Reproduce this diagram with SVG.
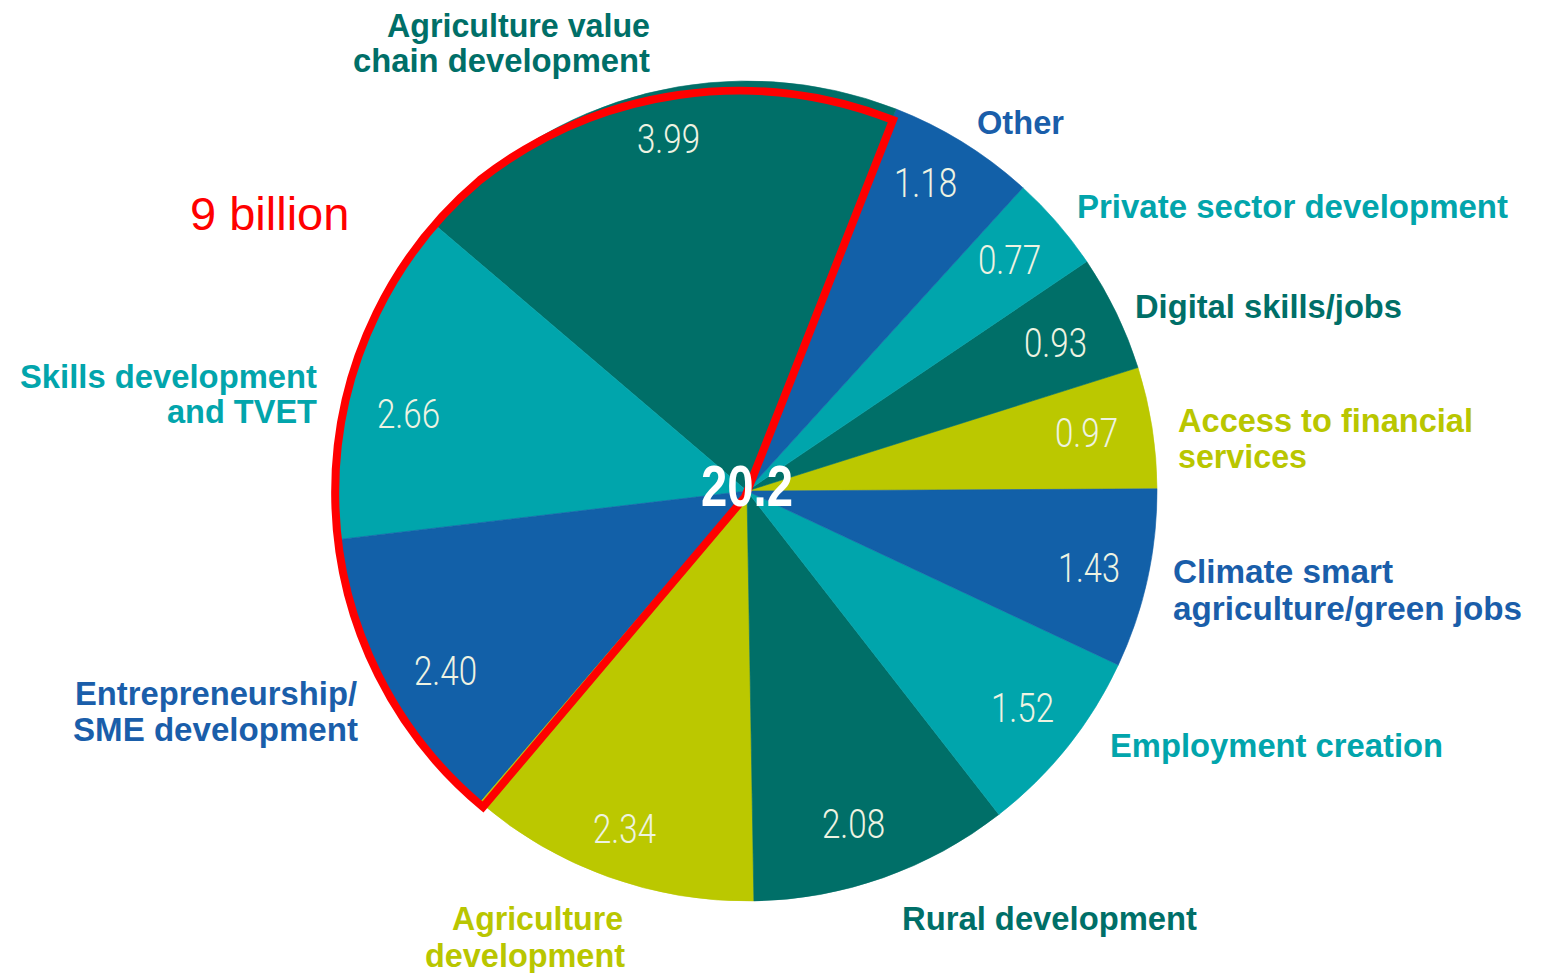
<svg xmlns="http://www.w3.org/2000/svg" width="1550" height="973" viewBox="0 0 1550 973">
<style>
.teal{fill:#006F68;stroke:#006F68;stroke-width:0.6}
.blue{fill:#1260A8;stroke:#1260A8;stroke-width:0.6}
.cyan{fill:#00A5AC;stroke:#00A5AC;stroke-width:0.6}
.lime{fill:#BBC800;stroke:#BBC800;stroke-width:0.6}
.val{font-family:Roboto,"Liberation Sans",sans-serif;font-weight:300;font-size:41px;fill:#EEF3E2}
.lbl{font-family:"Liberation Sans",Arial,sans-serif;font-weight:bold;font-size:34px}
.tT{fill:#006F68}.tB{fill:#1A5EAA}.tC{fill:#02A5AC}.tL{fill:#B9C600}
.red{fill:none;stroke:#FF0000;stroke-width:8;stroke-linejoin:miter}
</style>
<rect width="1550" height="973" fill="#FFFFFF"/>
<g id="slice-access">
<path class="lime" d="M747,491 L1157,488.85 A410,410 0 0 0 1137.97,367.52 Z"/>
<text class="val" x="1055" y="447" textLength="63" lengthAdjust="spacingAndGlyphs">0.97</text>
<text class="lbl tL" x="1178" y="432" textLength="295" lengthAdjust="spacingAndGlyphs">Access to financial</text>
<text class="lbl tL" x="1178" y="468" textLength="129" lengthAdjust="spacingAndGlyphs">services</text>
</g>
<g id="slice-digital">
<path class="teal" d="M747,491 L1137.97,367.52 A410,410 0 0 0 1086.73,261.47 Z"/>
<text class="val" x="1024" y="357" textLength="63" lengthAdjust="spacingAndGlyphs">0.93</text>
<text class="lbl tT" x="1135" y="318" textLength="267" lengthAdjust="spacingAndGlyphs">Digital skills/jobs</text>
</g>
<g id="slice-private">
<path class="cyan" d="M747,491 L1086.73,261.47 A410,410 0 0 0 1022.84,187.66 Z"/>
<text class="val" x="978" y="274" textLength="63" lengthAdjust="spacingAndGlyphs">0.77</text>
<text class="lbl tC" x="1077" y="218" textLength="431" lengthAdjust="spacingAndGlyphs">Private sector development</text>
</g>
<g id="slice-other">
<path class="blue" d="M747,491 L1022.84,187.66 A410,410 0 0 0 896.09,109.06 Z"/>
<text class="val" x="894" y="197" textLength="63" lengthAdjust="spacingAndGlyphs">1.18</text>
<text class="lbl tB" x="977" y="134" textLength="87" lengthAdjust="spacingAndGlyphs">Other</text>
</g>
<g id="slice-avc">
<path class="teal" d="M747,491 L896.09,109.06 A410,410 0 0 0 435.05,224.94 Z"/>
<text class="val" x="637" y="153" textLength="63" lengthAdjust="spacingAndGlyphs">3.99</text>
<text class="lbl tT" x="650" y="37" text-anchor="end" textLength="263" lengthAdjust="spacingAndGlyphs">Agriculture value</text>
<text class="lbl tT" x="650" y="72" text-anchor="end" textLength="297" lengthAdjust="spacingAndGlyphs">chain development</text>
</g>
<g id="slice-skills">
<path class="cyan" d="M747,491 L435.05,224.94 A410,410 0 0 0 339.87,539.41 Z"/>
<text class="val" x="377" y="428" textLength="63" lengthAdjust="spacingAndGlyphs">2.66</text>
<text class="lbl tC" x="317" y="388" text-anchor="end" textLength="297" lengthAdjust="spacingAndGlyphs">Skills development</text>
<text class="lbl tC" x="317" y="423" text-anchor="end" textLength="150" lengthAdjust="spacingAndGlyphs">and TVET</text>
</g>
<g id="slice-entrepreneurship">
<path class="blue" d="M747,491 L339.87,539.41 A410,410 0 0 0 480.21,802.33 Z"/>
<text class="val" x="414" y="685" textLength="63" lengthAdjust="spacingAndGlyphs">2.40</text>
<text class="lbl tB" x="357" y="705" text-anchor="end" textLength="282" lengthAdjust="spacingAndGlyphs">Entrepreneurship/</text>
<text class="lbl tB" x="358" y="741" text-anchor="end" textLength="285" lengthAdjust="spacingAndGlyphs">SME development</text>
</g>
<g id="slice-agri-dev">
<path class="lime" d="M747,491 L480.21,802.33 A410,410 0 0 0 753.90,900.94 Z"/>
<text class="val" x="593" y="843" textLength="63" lengthAdjust="spacingAndGlyphs">2.34</text>
<text class="lbl tL" x="623" y="930" text-anchor="end" textLength="171" lengthAdjust="spacingAndGlyphs">Agriculture</text>
<text class="lbl tL" x="625" y="967" text-anchor="end" textLength="200" lengthAdjust="spacingAndGlyphs">development</text>
</g>
<g id="slice-rural">
<path class="teal" d="M747,491 L753.90,900.94 A410,410 0 0 0 998.88,814.50 Z"/>
<text class="val" x="822" y="838" textLength="63" lengthAdjust="spacingAndGlyphs">2.08</text>
<text class="lbl tT" x="902" y="930" textLength="295" lengthAdjust="spacingAndGlyphs">Rural development</text>
</g>
<g id="slice-employment">
<path class="cyan" d="M747,491 L998.88,814.50 A410,410 0 0 0 1118.29,664.92 Z"/>
<text class="val" x="991" y="722" textLength="63" lengthAdjust="spacingAndGlyphs">1.52</text>
<text class="lbl tC" x="1110" y="757" textLength="333" lengthAdjust="spacingAndGlyphs">Employment creation</text>
</g>
<g id="slice-climate">
<path class="blue" d="M747,491 L1118.29,664.92 A410,410 0 0 0 1157,488.85 Z"/>
<text class="val" x="1058" y="582" textLength="62" lengthAdjust="spacingAndGlyphs">1.43</text>
<text class="lbl tB" x="1173" y="583" textLength="220" lengthAdjust="spacingAndGlyphs">Climate smart</text>
<text class="lbl tB" x="1173" y="620" textLength="349" lengthAdjust="spacingAndGlyphs">agriculture/green jobs</text>
</g>
<g id="connectors">
<path class="red" d="M483,807 L745,497 L893,120 A420,420 0 0 0 480,180 A409,409 0 0 0 483,807 Z"/>
</g>
<g id="total">
<text x="747" y="506" text-anchor="middle" textLength="92" lengthAdjust="spacingAndGlyphs" font-family="Liberation Sans, Arial, sans-serif" font-weight="bold" font-size="58" fill="#FFFFFF">20.2</text>
</g>
<g id="annotation">
<text x="190" y="230" font-family="Liberation Sans, Arial, sans-serif" font-size="47" fill="#FF0000">9 billion</text>
</g>
</svg>
